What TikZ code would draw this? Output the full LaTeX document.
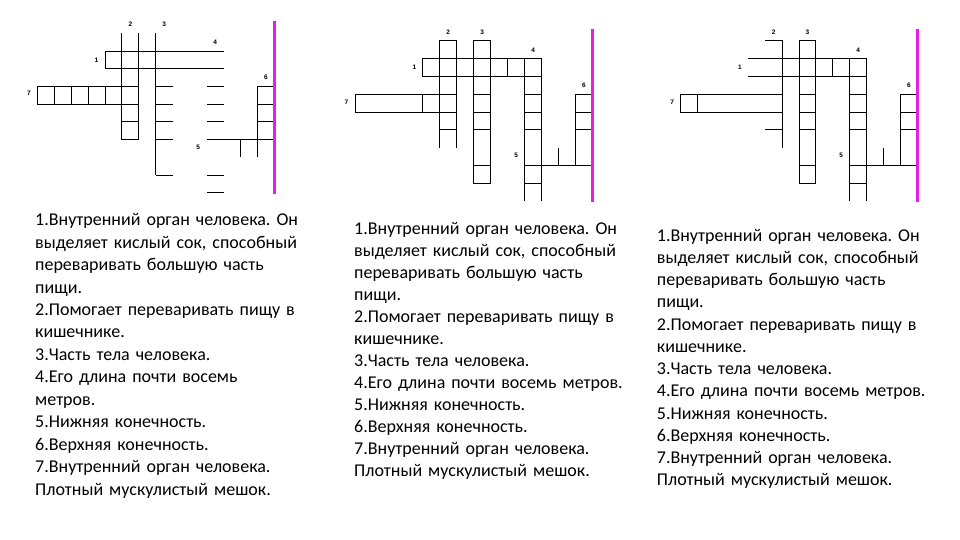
\documentclass[tikz,border=0pt]{standalone}
\usepackage{fontspec}
\setmainfont{Carlito}
\newfontfamily\numfont{Liberation Sans}
\usetikzlibrary{positioning}
\definecolor{MarkColor}{HTML}{E61EE6}
\frenchspacing

\begin{document}
\begin{tikzpicture}[x=1pt,y=-1pt,
		grid/.style={line width=1pt},
		markline/.style={MarkColor,line width=3pt},
		num/.style={font=\numfont\bfseries\fontsize{6.5}{7}\selectfont,inner sep=0pt},
		clues/.style={anchor=base west,text width=330pt,align=left,inner sep=0pt}]
				\fill[white] (0,0) rectangle (960,540);
				\useasboundingbox (0,0) rectangle (960,540);

				% first crossword
				\begin{scope}[shift={(37.3,33.3)},x=16.93pt,y=-17.73pt]
				\draw[grid] (0,3) rectangle (6,4);
				\foreach \c in {1,...,4} \draw[grid] (\c,3) -- (\c,4);
				\draw[grid] (5,0) -- (5,6) -- (6,6) -- (6,0);
				\draw[grid] (5,5) -- (6,5);
				\draw[grid] (11,1) -- (4,1) -- (4,2) -- (11,2);
				\draw[grid] (7,0) -- (7,8);
				\foreach \r in {3,4,5,6,8} \draw[grid] (7,\r) -- (8,\r);
				\foreach \r in {3,4,5,8,9} \draw[grid] (10,\r) -- (11,\r);
				\draw[grid] (10,6) -- (14,6);
				\draw[grid] (12,6) -- (12,7);
				\draw[grid] (13,7) -- (13,3) -- (14,3) -- (14,7);
				\draw[grid] (13,4) -- (14,4) (13,5) -- (14,5);
				\draw[markline] (14,-0.7) -- (14,9.05);
				\node[num] (aTwo) at (5.5,-0.5) {2};
				\node[num] (aThree) at (7.5,-0.5) {3};
				\node[num] (aFour) at (10.5,0.5) {4};
				\node[num] (aOne) at (3.5,1.5) {1};
				\node[num] (aSeven) at (-0.5,3.4) {7};
				\node[num] (aSix) at (13.5,2.5) {6};
				\node[num] (aFive) at (9.5,6.45) {5};
				\end{scope}

				% second crossword
				\begin{scope}[shift={(355,41)},x=16.96pt,y=-17.78pt]
				\draw[grid] (0,3) rectangle (6,4);
				\draw[grid] (4,3) -- (4,4);
				\draw[grid] (5,6) -- (5,0) -- (6,0) -- (6,6);
				\draw[grid] (5,5) -- (6,5);
				\draw[grid] (7,0) rectangle (8,8);
				\foreach \r in {3,4,5,7} \draw[grid] (7,\r) -- (8,\r);
				\draw[grid] (4,1) rectangle (11,2);
				\draw[grid] (9,1) -- (9,2);
				\draw[grid] (10,9) -- (10,1) (11,1) -- (11,9);
				\foreach \r in {3,4,5,8} \draw[grid] (10,\r) -- (11,\r);
				\draw[grid] (10,7) -- (14,7);
				\draw[grid] (12,6) -- (12,7);
				\draw[grid] (13,3) rectangle (14,7);
				\draw[grid] (13,4) -- (14,4) (13,5) -- (14,5);
				\draw[markline] (14,-0.7) -- (14,9.05);
				\node[num] (bTwo) at (5.5,-0.5) {2};
				\node[num] (bThree) at (7.5,-0.5) {3};
				\node[num] (bFour) at (10.5,0.5) {4};
				\node[num] (bOne) at (3.5,1.5) {1};
				\node[num] (bSeven) at (-0.5,3.45) {7};
				\node[num] (bSix) at (13.5,2.5) {6};
				\node[num] (bFive) at (9.5,6.45) {5};
				\end{scope}

				% third crossword
				\begin{scope}[shift={(680.7,41)},x=16.9pt,y=-17.78pt]
				\draw[grid] (0,3) rectangle (6,4);
				\draw[grid] (1,3) -- (1,4);
				\draw[grid] (5,0) -- (6,0) -- (6,6);
				\draw[grid] (5,5) -- (6,5);
				\draw[grid] (4,1) -- (11,1) -- (11,2) -- (4,2);
				\draw[grid] (9,1) -- (9,2);
				\draw[grid] (7,0) rectangle (8,8);
				\foreach \r in {3,4,5,7} \draw[grid] (7,\r) -- (8,\r);
				\draw[grid] (10,9) -- (10,1) (11,2) -- (11,9);
				\foreach \r in {3,4,5,8} \draw[grid] (10,\r) -- (11,\r);
				\draw[grid] (10,7) -- (14,7);
				\draw[grid] (12,6) -- (12,7);
				\draw[grid] (13,3) rectangle (14,7);
				\draw[grid] (13,4) -- (14,4) (13,5) -- (14,5);
				\draw[markline] (14,-0.7) -- (14,9.05);
				\node[num] (cTwo) at (5.5,-0.5) {2};
				\node[num] (cThree) at (7.5,-0.5) {3};
				\node[num] (cFour) at (10.5,0.5) {4};
				\node[num] (cOne) at (3.5,1.5) {1};
				\node[num] (cSeven) at (-0.5,3.45) {7};
				\node[num] (cSix) at (13.5,2.5) {6};
				\node[num] (cFive) at (9.5,6.45) {5};
				\end{scope}

				% questions
				\node[clues,font=\fontsize{18}{22.45}\selectfont] (cluesA) at (35,225.7) {1.Внутренний орган человека. Он\\ выделяет кислый сок, способный\\ переваривать большую часть\\ пищи.\\ 2.Помогает переваривать пищу в\\ кишечнике.\\ 3.Часть тела человека.\\ 4.Его длина почти восемь\\ метров.\\ 5.Нижняя конечность.\\ 6.Верхняя конечность.\\ 7.Внутренний орган человека.\\ Плотный мускулистый мешок.};
				\node[clues,font=\fontsize{18}{22.06}\selectfont] (cluesB) at (354,234) {1.Внутренний орган человека. Он\\ выделяет кислый сок, способный\\ переваривать большую часть\\ пищи.\\ 2.Помогает переваривать пищу в\\ кишечнике.\\ 3.Часть тела человека.\\ 4.Его длина почти восемь метров.\\ 5.Нижняя конечность.\\ 6.Верхняя конечность.\\ 7.Внутренний орган человека.\\ Плотный мускулистый мешок.};
				\node[clues,font=\fontsize{18}{22.25}\selectfont] (cluesC) at (656.7,241) {1.Внутренний орган человека. Он\\ выделяет кислый сок, способный\\ переваривать большую часть\\ пищи.\\ 2.Помогает переваривать пищу в\\ кишечнике.\\ 3.Часть тела человека.\\ 4.Его длина почти восемь метров.\\ 5.Нижняя конечность.\\ 6.Верхняя конечность.\\ 7.Внутренний орган человека.\\ Плотный мускулистый мешок.};
			\end{tikzpicture}
\end{document}
